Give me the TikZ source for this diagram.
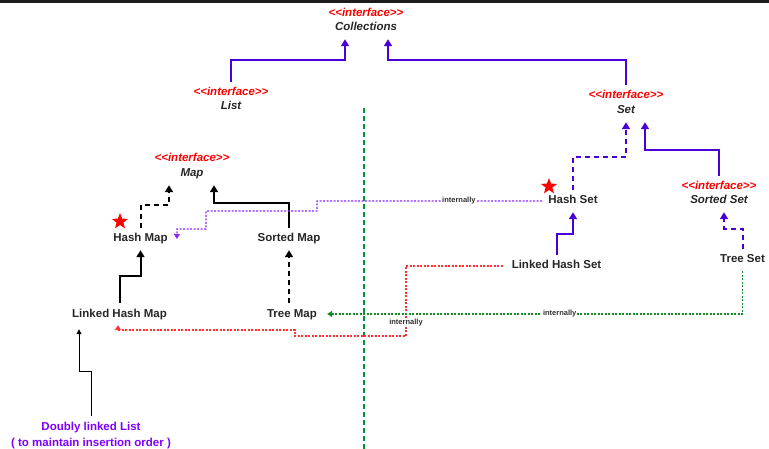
\documentclass[tikz,border=0pt]{standalone}
\usepackage{fontspec}
\setmainfont{Liberation Sans}
\usetikzlibrary{arrows.meta,shapes.geometric}
\definecolor{topbar}{RGB}{28,28,28}
\definecolor{ifred}{RGB}{255,0,0}
\definecolor{implblue}{RGB}{72,0,214}
\definecolor{notepurple}{RGB}{127,0,255}
\definecolor{viapurple}{RGB}{140,40,255}
\definecolor{viared}{RGB}{250,50,50}
\definecolor{viagreen}{RGB}{20,140,40}
\definecolor{sepgreen}{RGB}{0,150,50}
\newcommand{\stereotype}{<\kern0pt<interface>\kern0pt>}
\begin{document}
\begin{tikzpicture}[x=1pt,y=-1pt]
	\tikzstyle{every node}+=[inner xsep=0pt,inner ysep=5.5pt,text height=8.5pt,text depth=2.5pt,font=\fontsize{11.5}{14}\selectfont\bfseries]
	\tikzstyle{stereo}=[text=ifred,font=\fontsize{11.5}{14}\selectfont\bfseries\itshape]
	\tikzstyle{iface}=[text=black!85,font=\fontsize{11.5}{14}\selectfont\bfseries\itshape]
	\tikzstyle{cls}=[text=black!85]
	\tikzstyle{note}=[text=notepurple]
	\tikzstyle{lbl}=[fill=white,inner sep=0.8pt,text height=5.5pt,text depth=1.5pt,text=black!80,font=\fontsize{7.5}{8}\selectfont\bfseries]
	\tikzstyle{favstar}=[star,star points=5,star point ratio=2.4,fill=red,minimum size=17pt,inner sep=0pt,text height=0pt,text depth=0pt]
	\tikzstyle{extp}=[implblue,line width=2pt,-{Triangle[width=8pt,length=7pt]}]
	\tikzstyle{implp}=[extp,dash pattern=on 5pt off 4pt]
	\tikzstyle{extk}=[black,line width=2pt,-{Triangle[width=8pt,length=7pt]}]
	\tikzstyle{implk}=[extk,dash pattern=on 5pt off 4pt]
	\tikzstyle{via}=[line width=1.2pt,dash pattern=on 2pt off 1.5pt,-{Triangle[width=6pt,length=5pt]}]
	\useasboundingbox (0,0) rectangle (769,449);
	\fill[topbar] (0,0) rectangle (769,3.5);
	\draw[sepgreen,line width=2pt,dash pattern=on 5pt off 3pt] (364,108) -- (364,449);

	% interfaces
	\node[stereo] (collI) at (366,14) {\stereotype};
	\node[iface] (coll) at (366,28) {Collections};
	\node[stereo] (listI) at (231,93) {\stereotype};
	\node[iface] (list) at (231,107) {List};
	\node[stereo] (setI) at (626,96) {\stereotype};
	\node[iface] (set) at (626,111) {Set};
	\node[stereo] (mapI) at (192,159) {\stereotype};
	\node[iface] (map) at (192,174) {Map};
	\node[stereo] (sortedsetI) at (719,187) {\stereotype};
	\node[iface] (sortedset) at (719,201) {Sorted Set};

	% classes
	\node[cls] (hashmap) at (140.5,239) {Hash Map};
	\node[cls] (sortedmap) at (289,239) {Sorted Map};
	\node[cls] (lhm) at (119.5,314) {Linked Hash Map};
	\node[cls] (treemap) at (292,314) {Tree Map};
	\node[cls] (hashset) at (573,201) {Hash Set};
	\node[cls] (lhs) at (556.5,266) {Linked Hash Set};
	\node[cls] (treeset) at (742.5,260) {Tree Set};
	\node[favstar] (hmstar) at (120,221.5) {};
	\node[favstar] (hsstar) at (549,186.5) {};
	\node[note] (dll) at (91,427) {Doubly linked List};
	\node[note] (dllnote) at (91,443) {( to maintain insertion order )};

	% collections side
	\draw[extp] (listI.north) -- ++(0,-22) -| ([xshift=-21pt]coll.south);
	\draw[extp] (setI.north) -- ++(0,-25) -| ([xshift=22pt]coll.south);
	\draw[implp] (hashset.north) -- ++(0,-33) -| (set.south);
	\draw[extp] (sortedsetI.north) -- ++(0,-26) -| ([xshift=19pt]set.south);
	\draw[extp] (lhs.north) -- ++(0,-21) -| (hashset.south);
	\draw[implp] (treeset.north) -- ++(0,-20) -| ([xshift=5pt]sortedset.south);

	% map side
	\draw[implk] (hashmap.north) -- ++(0,-23) -| ([xshift=-23pt]map.south);
	\draw[extk] (sortedmap.north) -- ++(0,-25) -| ([xshift=22pt]map.south);
	\draw[extk] (lhm.north) -- ++(0,-27) -| (hashmap.south);
	\draw[implk] (sortedmap.south |- treemap.north) -- (sortedmap.south);
	\draw[black,line width=1pt,-{Triangle[width=5pt,length=5pt]}] (dll.north) -- ++(0,-44) -| ([xshift=-40.5pt,yshift=-4pt]lhm.south);

	% internally
	\draw[via,viapurple] ([xshift=-6pt]hashset.west) -- node[lbl,pos=0.37] {internally} (317,201) -- (317,211) -- (206,211) -- (206,229) -- (177,229) -- ([xshift=9pt]hashmap.east);
	\draw[via,viared] ([xshift=-9pt]lhs.west) -- (406,266) -- node[lbl,pos=0.81] {internally} (406,336) -- (295,336) -- (295,330) -- (118,330) -- ([xshift=-1.5pt]lhm.south);
	\draw[via,viagreen] (treeset.south) |- node[lbl,pos=0.72] {internally} ([xshift=10pt]treemap.east);
\end{tikzpicture}
\end{document}
